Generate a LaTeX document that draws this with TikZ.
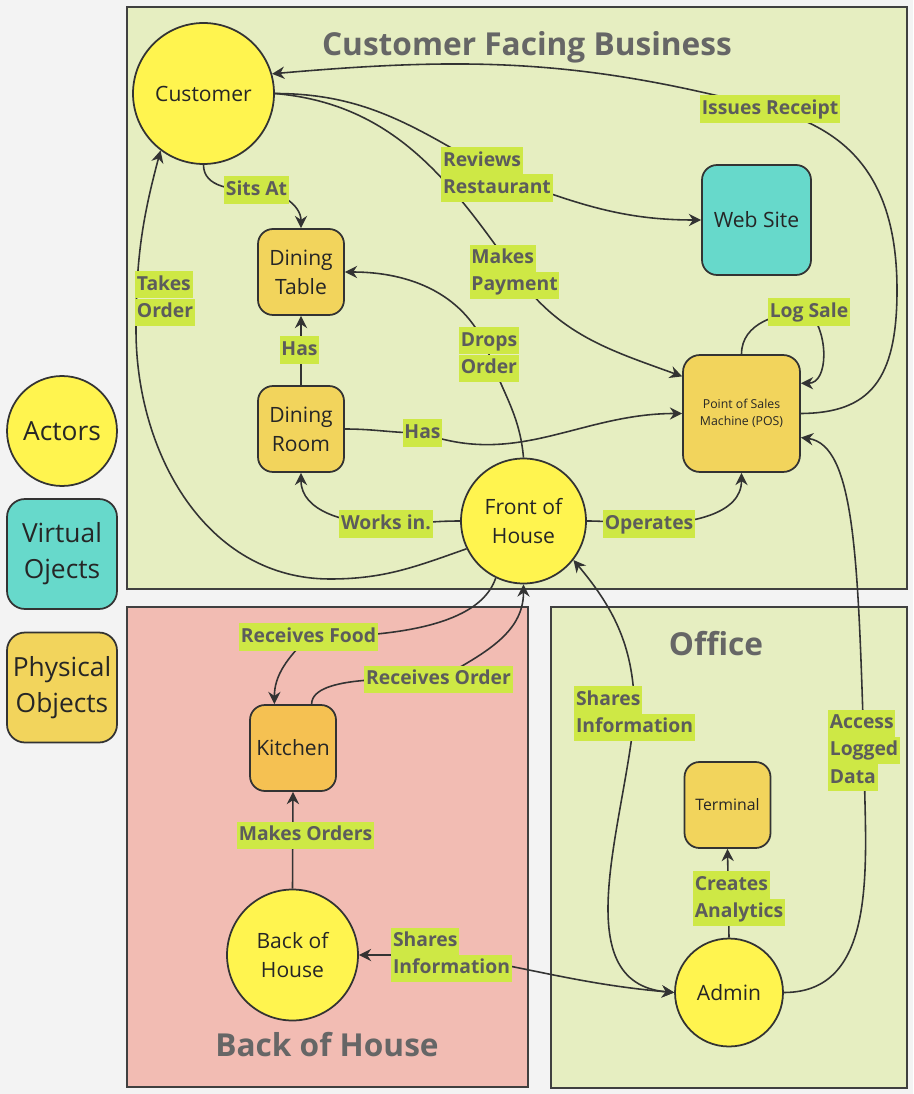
\documentclass[tikz,border=0pt]{standalone}
\usepackage{fontspec}
\setmainfont{Open Sans}
\usetikzlibrary{arrows.meta}

\definecolor{pagebg}{HTML}{F3F3F3}
\definecolor{cfbgreen}{HTML}{E6EEC1}
\definecolor{bohpink}{HTML}{F2BCB3}
\definecolor{actorfill}{HTML}{FFF44F}
\definecolor{virtfill}{HTML}{67D9CB}
\definecolor{physfill}{HTML}{F2D45C}
\definecolor{kitchfill}{HTML}{F5C152}
\definecolor{lblbg}{HTML}{CEE845}
\definecolor{lbltext}{HTML}{5C5C5C}
\definecolor{titlegray}{HTML}{666666}
\definecolor{linegray}{HTML}{333333}

\pgfdeclarelayer{back}
\pgfdeclarelayer{edges}
\pgfsetlayers{back,edges,main}

\setlength{\fboxsep}{1pt}
\newcommand{\hlbox}[1]{\colorbox{lblbg}{\rule[-3.6pt]{0pt}{13.4pt}#1}}

\tikzset{
  >={Stealth[length=7pt,width=7pt]},
  actor/.style={circle, draw=linegray, line width=1pt, fill=actorfill, align=center,
    text=black!85, font=\fontsize{12}{16}\selectfont},
  object/.style={rectangle, rounded corners=0.3cm, draw=linegray, line width=1pt, align=center,
    text=black!85, font=\fontsize{12}{16.5}\selectfont, minimum size=1.72cm, inner sep=2pt},
  physobj/.style={object, fill=physfill},
  virtobj/.style={object, fill=virtfill},
  lbl/.style={inner sep=0pt, align=left, text=lbltext, font=\fontsize{11}{15.4}\selectfont\bfseries},
  conn/.style={draw=linegray, line width=0.9pt, ->},
  frame/.style={draw=black!75, line width=1.1pt},
  frametitle/.style={anchor=base, text=titlegray, font=\fontsize{18}{22}\selectfont\bfseries},
}

\begin{document}
\begin{tikzpicture}[x=0.02cm, y=-0.02cm]
  \useasboundingbox (0,0) rectangle (913,1094);

  % Areas
  \begin{pgfonlayer}{back}
    \fill[pagebg] (0,0) rectangle (913,1094);
    \draw[frame, fill=cfbgreen] (127,7) rectangle (907,589);
    \draw[frame, fill=bohpink] (127,607) rectangle (528,1087);
    \draw[frame, fill=cfbgreen] (551,607) rectangle (907,1088);
  \end{pgfonlayer}

  \node[frametitle] (cfbtitle) at (527,56) {Customer Facing Business};
  \node[frametitle] (officetitle) at (716,655) {Office};
  \node[frametitle] (bohtitle) at (327,1056) {Back of House};

  % Legend
  \node[actor, minimum size=2.2cm, font=\fontsize{15}{20}\selectfont] (legactor) at (62,431) {Actors};
  \node[virtobj, minimum size=2.2cm, rounded corners=0.36cm, font=\fontsize{15}{20.5}\selectfont] (legvirt) at (62,554) {Virtual\\Ojects};
  \node[physobj, minimum size=2.2cm, rounded corners=0.36cm, font=\fontsize{15}{20.5}\selectfont] (legphys) at (62,687.5) {Physical\\Objects};

  % Actors and objects
  \node[actor, minimum size=2.82cm] (cust) at (203.5,93.5) {Customer};
  \node[physobj] (dtable) at (301,272) {Dining\\Table};
  \node[physobj] (droom) at (301,429) {Dining\\Room};
  \node[virtobj, minimum width=2.18cm, minimum height=2.2cm] (web) at (756.5,220) {Web Site};
  \node[physobj, minimum size=2.34cm, rounded corners=0.34cm, font=\fontsize{7}{9.5}\selectfont] (pos) at (741.5,413.5) {Point of Sales\\Machine (POS)};
  \node[actor, minimum size=2.5cm] (foh) at (523.5,521) {Front of\\House};
  \node[object, fill=kitchfill] (kitchen) at (293,748) {Kitchen};
  \node[actor, minimum size=2.62cm] (boh) at (292.5,955) {Back of\\House};
  \node[physobj, font=\fontsize{9}{11}\selectfont] (terminal) at (727.5,805) {Terminal};
  \node[actor, minimum size=2.16cm] (admin) at (729,992.5) {Admin};

  % Labels
  \node[lbl] (sitsat) at (256.5,190) {\hlbox{Sits At}};
  \node[lbl] (takes) at (165,298.5) {\hlbox{Takes}\\\hlbox{Order}};
  \node[lbl] (reviews) at (497,174.5) {\hlbox{Reviews}\\\hlbox{Restaurant}};
  \node[lbl] (payment) at (514.5,272) {\hlbox{Makes}\\\hlbox{Payment}};
  \node[lbl] (receipt) at (770,109) {\hlbox{Issues Receipt}};
  \node[lbl] (logsale) at (809,312) {\hlbox{Log Sale}};
  \node[lbl] (hasT) at (299.5,350) {\hlbox{Has}};
  \node[lbl] (drops) at (489,354.5) {\hlbox{Drops}\\\hlbox{Order}};
  \node[lbl] (hasP) at (422.5,433) {\hlbox{Has}};
  \node[lbl] (works) at (386,524) {\hlbox{Works in.}};
  \node[lbl] (operates) at (649,524) {\hlbox{Operates}};
  \node[lbl] (rfood) at (308.5,637) {\hlbox{Receives Food}};
  \node[lbl] (rorder) at (438.5,679.5) {\hlbox{Receives Order}};
  \node[lbl] (morders) at (305.5,835.5) {\hlbox{Makes Orders}};
  \node[lbl] (shareB) at (451.5,955) {\hlbox{Shares}\\\hlbox{Information}};
  \node[lbl] (shareO) at (634.5,713.5) {\hlbox{Shares}\\\hlbox{Information}};
  \node[lbl] (access) at (864,750.5) {\hlbox{Access}\\\hlbox{Logged}\\\hlbox{Data}};
  \node[lbl] (creates) at (739,898.5) {\hlbox{Creates}\\\hlbox{Analytics}};

  % Connectors
  \begin{pgfonlayer}{edges}
    \draw[conn] (cust.south) to[out=-90,in=180] (sitsat.center) to[out=0,in=90] (dtable.north);
    \draw[conn] (foh.206) .. controls (415,567) and (384,579) .. (330,579)
      to[out=180,in=-90] (136,330) to[out=90,in=255] (cust.233);
    \draw[conn] (cust.east) to[out=0,in=150] (reviews.center) to[out=-20,in=180] (web.west);
    \draw[conn] (cust.east) to[out=-5,in=125] (payment.center) to[out=-55,in=160] (pos.148);
    \draw[conn] (pos.east) .. controls (870,413) and (897,380) .. (897,290)
      .. controls (897,180) and (850,130) .. (receipt.center) to[out=165,in=5] (cust.16);
    \draw[conn] (pos.north) to[out=90,in=180] (logsale.center) to[out=-45,in=0] (pos.27);
    \draw[conn] (droom.north) -- (dtable.south);
    \draw[conn] (foh.north) to[out=95,in=-70] (drops.center) to[out=110,in=0] (dtable.east);
    \draw[conn] (droom.east) to[out=0,in=180] (hasP.center) to[out=-20,in=180] (pos.west);
    \draw[conn] (foh.west) to[out=180,in=0] (works.center) to[out=180,in=-90] (droom.south);
    \draw[conn] (foh.east) to[out=0,in=180] (operates.center) to[out=0,in=-90] (pos.south);
    \draw[conn] (foh.244) .. controls (485,610) and (440,637) .. (rfood.center)
      to[out=225,in=90] (kitchen.113);
    \draw[conn] (kitchen.67) to[out=90,in=180,looseness=0.6] (rorder.center) to[out=30,in=-90] (foh.south);
    \draw[conn] (boh.north) -- (kitchen.south);
    \draw[conn,<->] (boh.east) -- (shareB.center) to[out=-10,in=175] (admin.west);
    \draw[conn,<->] (foh.322) to[out=-50,in=90] (shareO.center) to[out=-95,in=175] (admin.west);
    \draw[conn] (admin.east) to[out=0,in=-90] (access.center)
      .. controls (858,560) and (855,445) .. (pos.338);
    \draw[conn] (admin.north) -- (terminal.south);
  \end{pgfonlayer}
\end{tikzpicture}
\end{document}
